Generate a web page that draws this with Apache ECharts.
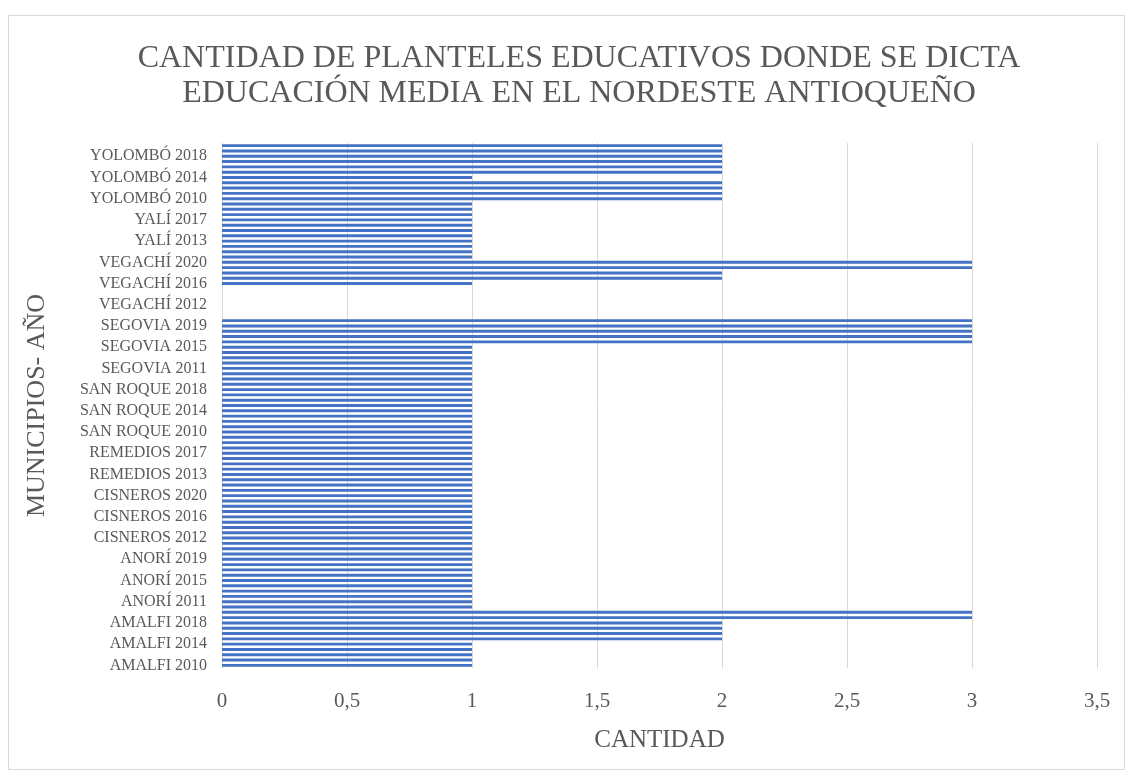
<!DOCTYPE html>
<html>
<head>
<meta charset="utf-8">
<script src="https://cdn.jsdelivr.net/npm/echarts@6/dist/echarts.min.js"></script>
<style>
html,body{margin:0;padding:0;background:#fff;}
#chart{width:1132px;height:776px;}
</style>
</head>
<body>
<div id="chart"></div>
<script>
// ---- data ----
const municipios = ['AMALFI','ANORÍ','CISNEROS','REMEDIOS','SAN ROQUE','SEGOVIA','VEGACHÍ','YALÍ','YOLOMBÓ'];
const years = [2010,2011,2012,2013,2014,2015,2016,2017,2018,2019,2020];
const amalfi   = [1,1,1,1,1,2,2,2,2,3,3];
const anori    = [1,1,1,1,1,1,1,1,1,1,1];
const cisneros = [1,1,1,1,1,1,1,1,1,1,1];
const remedios = [1,1,1,1,1,1,1,1,1,1,1];
const sanRoque = [1,1,1,1,1,1,1,1,1,1,1];
const segovia  = [1,1,1,1,1,1,3,3,3,3,3];
const vegachi  = [0,0,0,0,0,0,1,2,2,3,3];
const yali     = [1,1,1,1,1,1,1,1,1,1,1];
const yolombo  = [2,2,2,2,1,2,2,2,2,2,2];
const xTicks = [0,0.5,1,1.5,2,2.5,3,3.5];

const valuesByMunicipio = [amalfi, anori, cisneros, remedios, sanRoque, segovia, vegachi, yali, yolombo];
const categories = [];
const values = [];
municipios.forEach((m, i) => {
  years.forEach((y, j) => {
    categories.push(m + ' ' + y);
    values.push(valuesByMunicipio[i][j]);
  });
});

const FONT = '"Liberation Serif", "Times New Roman", serif';
const GRAY = '#595959';

const chart = echarts.init(document.getElementById('chart'));
chart.setOption({
  animation: false,
  backgroundColor: '#ffffff',
  title: {
    text: 'CANTIDAD DE PLANTELES EDUCATIVOS DONDE SE DICTA\nEDUCACIÓN MEDIA EN EL NORDESTE ANTIOQUEÑO',
    left: 574,
    top: 36,
    textAlign: 'center',
    textStyle: {
      fontFamily: FONT,
      fontSize: 32,
      fontWeight: 'normal',
      color: GRAY,
      lineHeight: 35
    }
  },
  graphic: [{
    type: 'rect',
    shape: {x: 8.5, y: 15.5, width: 1116, height: 754},
    style: {fill: 'none', stroke: '#D9D9D9', lineWidth: 1},
    z: -1
  }],
  grid: {left: 222, right: 35, top: 143, bottom: 108, containLabel: false},
  xAxis: {
    type: 'value',
    min: xTicks[0],
    max: xTicks[xTicks.length - 1],
    interval: 0.5,
    name: 'CANTIDAD',
    nameLocation: 'middle',
    nameGap: 60,
    nameTextStyle: {fontFamily: FONT, fontSize: 25, color: GRAY},
    axisLine: {show: false},
    axisTick: {show: false},
    axisLabel: {
      fontFamily: FONT, fontSize: 21, color: GRAY, margin: 23,
      formatter: v => String(v).replace('.', ',')
    },
    splitLine: {show: true, lineStyle: {color: '#D9D9D9', width: 1}}
  },
  yAxis: {
    type: 'category',
    data: categories,
    name: 'MUNICIPIOS- AÑO',
    nameLocation: 'middle',
    nameGap: 172,
    nameRotate: 90,
    nameTextStyle: {fontFamily: FONT, fontSize: 26, color: GRAY},
    axisLine: {show: true, lineStyle: {color: '#D9D9D9', width: 1}},
    axisTick: {show: false},
    axisLabel: {fontFamily: FONT, fontSize: 16, color: GRAY, margin: 15, interval: 3},
    splitLine: {show: false}
  },
  series: [{
    type: 'bar',
    data: values,
    barCategoryGap: '45%',
    itemStyle: {color: '#4472C4'}
  }]
});
</script>
</body>
</html>
